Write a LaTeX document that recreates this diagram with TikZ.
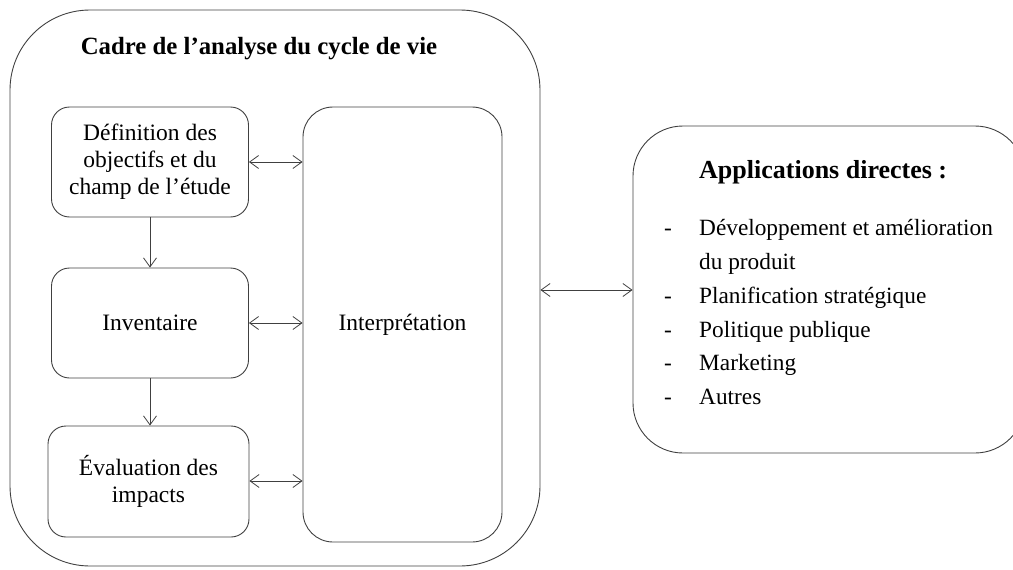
\documentclass[tikz,border=0pt]{standalone}
\usepackage{fontspec}
\setmainfont{Liberation Serif}
\usetikzlibrary{arrows.meta}
\begin{document}
\begin{tikzpicture}[x=1pt,y=-1pt,
  ln/.style={draw=black!75, line width=0.9pt},
  stepbox/.style={ln, rounded corners=18pt, minimum width=197pt, minimum height=110pt, align=center, inner sep=0pt,
     font=\fontsize{23.5}{27}\selectfont},
  conn/.style={draw=black!75, line width=0.8pt, {Straight Barb[length=9pt,width=13pt]}-{Straight Barb[length=9pt,width=13pt]}},
  oneway/.style={draw=black!75, line width=0.8pt, -{Straight Barb[length=9pt,width=13pt]}},
  listtxt/.style={anchor=base west, inner sep=0pt, font=\fontsize{23.3}{27}\selectfont}
]
\useasboundingbox (0,0) rectangle (1013,570);
% outer frame
\node[ln, rounded corners=80pt, minimum width=530pt, minimum height=556pt, inner sep=0pt] (outer) at (275,288) {};
\node[font=\fontsize{24.8}{28}\selectfont\bfseries] (title) at (259,49) {Cadre de l’analyse du cycle de vie};
% steps
\node[stepbox] (b1) at (150,162) {Définition des\\objectifs et du\\champ de l’étude};
\node[stepbox] (b2) at (150,323) {Inventaire};
\node[stepbox, minimum width=201pt, minimum height=111pt] (b3) at (148.5,481.5) {Évaluation des\\impacts};
\node[ln, rounded corners=30pt, minimum width=199pt, minimum height=435pt, inner sep=0pt] (ip) at (402.5,324.5) {};
\node[font=\fontsize{23.5}{27}\selectfont] (iptext) at (ip.center) {Interprétation};
% right box
\node[ln, rounded corners=50pt, minimum width=392pt, minimum height=327pt, inner sep=0pt] (app) at (829,289.5) {};
\node[anchor=base west, inner sep=0pt, font=\fontsize{26}{30}\selectfont\bfseries] (apptitle) at (699,178) {Applications directes :};
\node[listtxt] (l1) at (699,235) {Développement et amélioration};
\node[listtxt] (l1b) at (699,269) {du produit};
\node[listtxt] (l2) at (699,303) {Planification stratégique};
\node[listtxt] (l3) at (699,337) {Politique publique};
\node[listtxt] (l4) at (699,370) {Marketing};
\node[listtxt] (l5) at (699,404) {Autres};
\foreach \n/\yy in {d1/235,d2/303,d3/337,d4/370,d5/404}{
  \node[listtxt] (\n) at (664,\yy) {-};
}
% connectors
\coordinate (a1) at (b1.east |- 0,162);
\coordinate (a2) at (b2.east |- 0,323);
\coordinate (a3) at (b3.east |- 0,481);
\draw[conn] (a1) -- (a1 -| ip.west);
\draw[conn] (a2) -- (a2 -| ip.west);
\draw[conn] (a3) -- (a3 -| ip.west);
\draw[oneway] (b1.south) -- (b2.north);
\draw[oneway] (b2.south) -- (b2.south |- b3.north);
\coordinate (c1) at (outer.east |- 0,290);
\draw[conn] (c1) -- (c1 -| app.west);
\end{tikzpicture}
\end{document}
